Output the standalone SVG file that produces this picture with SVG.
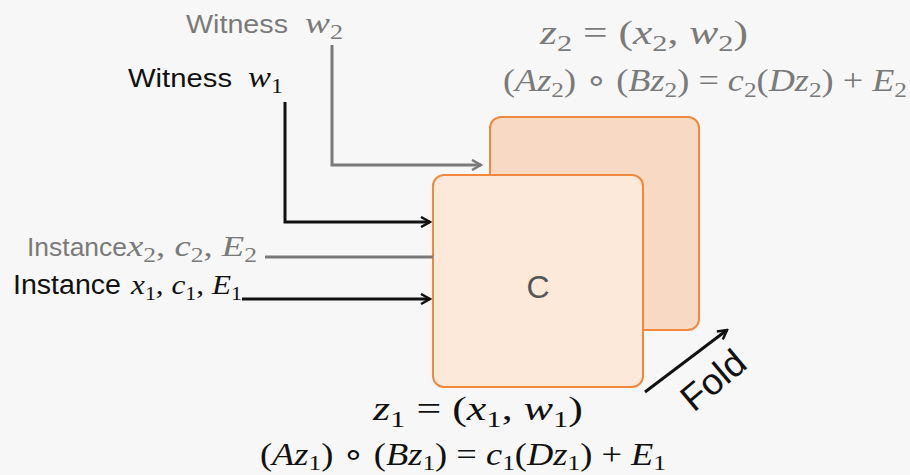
<svg xmlns="http://www.w3.org/2000/svg" width="910" height="475" viewBox="0 0 910 475">
<defs>
<style>
.lbl{font-family:"Liberation Sans",Arial,sans-serif}
.m{font-family:"Liberation Serif","Times New Roman",serif;font-style:italic}
.r{font-family:"Liberation Serif","Times New Roman",serif;font-style:normal}
.s{font-size:70%;font-style:normal}
.gray{fill:#7a7a7a}
.blk{fill:#111}
.box{stroke:#f0883e;stroke-width:2}
.cg{fill:none;stroke:#7a7a7a;stroke-width:3}
.cb{fill:none;stroke:#111;stroke-width:3}
</style>
<marker id="ab" viewBox="0 0 12 12" refX="10" refY="6" markerWidth="12" markerHeight="12" markerUnits="userSpaceOnUse" orient="auto"><path d="M1,1 L10,6 L1,11" fill="none" stroke="#111" stroke-width="2.5"/></marker>
<marker id="ag" viewBox="0 0 12 12" refX="10" refY="6" markerWidth="12" markerHeight="12" markerUnits="userSpaceOnUse" orient="auto"><path d="M1,1 L10,6 L1,11" fill="none" stroke="#7a7a7a" stroke-width="2.5"/></marker>
</defs>
<rect width="910" height="475" fill="#f7f7f7"/>
<g id="back-box"><rect class="box" x="490" y="117" width="209" height="213" rx="11" fill="#f7d9c4"/></g>
<g id="front-box"><rect class="box" x="433" y="175" width="210" height="212" rx="11" fill="#fde9d9"/>
<text x="538" y="298" text-anchor="middle" font-family="Liberation Sans,Arial,sans-serif" font-size="32" fill="#555">C</text></g>
<g id="connectors">
<polyline class="cg" points="332,45 332,165 481,165" marker-end="url(#ag)"/>
<polyline class="cb" points="285,102 285,222 430,222" marker-end="url(#ab)"/>
<line class="cg" x1="265" y1="257" x2="433" y2="257"/>
<line class="cb" x1="242" y1="299" x2="430" y2="299" marker-end="url(#ab)"/>
<line class="cb" x1="645" y1="392" x2="727" y2="330" marker-end="url(#ab)"/>
</g>
<g id="witness2">
<text class="lbl gray" x="186" y="33" font-size="25" textLength="102" lengthAdjust="spacingAndGlyphs">Witness</text>
<text class="m gray" x="305" y="33" font-size="30" textLength="38" lengthAdjust="spacingAndGlyphs">w<tspan class="s" dy="6">2</tspan></text></g>
<g id="witness1">
<text class="lbl blk" x="128" y="87" font-size="25" textLength="104" lengthAdjust="spacingAndGlyphs">Witness</text>
<text class="m blk" x="248" y="87" font-size="30" textLength="35" lengthAdjust="spacingAndGlyphs">w<tspan class="s" dy="6">1</tspan></text></g>
<g id="instance2">
<text class="lbl gray" x="27" y="256" font-size="26" textLength="100" lengthAdjust="spacingAndGlyphs">Instance</text>
<text class="m gray" x="127" y="256" font-size="29" textLength="130" lengthAdjust="spacingAndGlyphs">x<tspan class="s" dy="6">2</tspan><tspan class="r" dy="-6">, </tspan>c<tspan class="s" dy="6">2</tspan><tspan class="r" dy="-6">, </tspan>E<tspan class="s" dy="6">2</tspan></text></g>
<g id="instance1">
<text class="lbl blk" x="13" y="294" font-size="27" textLength="108" lengthAdjust="spacingAndGlyphs">Instance</text>
<text class="m blk" x="131" y="294" font-size="28" textLength="111" lengthAdjust="spacingAndGlyphs">x<tspan class="s" dy="6">1</tspan><tspan class="r" dy="-6">, </tspan>c<tspan class="s" dy="6">1</tspan><tspan class="r" dy="-6">, </tspan>E<tspan class="s" dy="6">1</tspan></text></g>
<g id="z2">
<text class="m gray" x="540" y="44" font-size="34" textLength="208" lengthAdjust="spacingAndGlyphs">z<tspan class="s" dy="7">2</tspan><tspan class="r" dy="-7"> = (</tspan>x<tspan class="s" dy="7">2</tspan><tspan class="r" dy="-7">, </tspan>w<tspan class="s" dy="7">2</tspan><tspan class="r" dy="-7">)</tspan></text>
<text class="r gray" x="503" y="91" font-size="31" textLength="404" lengthAdjust="spacingAndGlyphs">(<tspan class="m">Az</tspan><tspan class="s" dy="6">2</tspan><tspan dy="-6">) ∘ (</tspan><tspan class="m">Bz</tspan><tspan class="s" dy="6">2</tspan><tspan dy="-6">) = </tspan><tspan class="m">c</tspan><tspan class="s" dy="6">2</tspan><tspan dy="-6">(</tspan><tspan class="m">Dz</tspan><tspan class="s" dy="6">2</tspan><tspan dy="-6">) + </tspan><tspan class="m">E</tspan><tspan class="s" dy="6">2</tspan></text></g>
<g id="z1">
<text class="m blk" x="373" y="420" font-size="34" textLength="210" lengthAdjust="spacingAndGlyphs">z<tspan class="s" dy="7">1</tspan><tspan class="r" dy="-7"> = (</tspan>x<tspan class="s" dy="7">1</tspan><tspan class="r" dy="-7">, </tspan>w<tspan class="s" dy="7">1</tspan><tspan class="r" dy="-7">)</tspan></text>
<text class="r blk" x="260" y="465" font-size="31" textLength="406" lengthAdjust="spacingAndGlyphs">(<tspan class="m">Az</tspan><tspan class="s" dy="5">1</tspan><tspan dy="-5">) ∘ (</tspan><tspan class="m">Bz</tspan><tspan class="s" dy="5">1</tspan><tspan dy="-5">) = </tspan><tspan class="m">c</tspan><tspan class="s" dy="5">1</tspan><tspan dy="-5">(</tspan><tspan class="m">Dz</tspan><tspan class="s" dy="5">1</tspan><tspan dy="-5">) + </tspan><tspan class="m">E</tspan><tspan class="s" dy="5">1</tspan></text></g>
<g id="fold"><text class="lbl blk" font-size="37" transform="translate(713,380) rotate(-40)" text-anchor="middle" dy="13">Fold</text></g>
</svg>
